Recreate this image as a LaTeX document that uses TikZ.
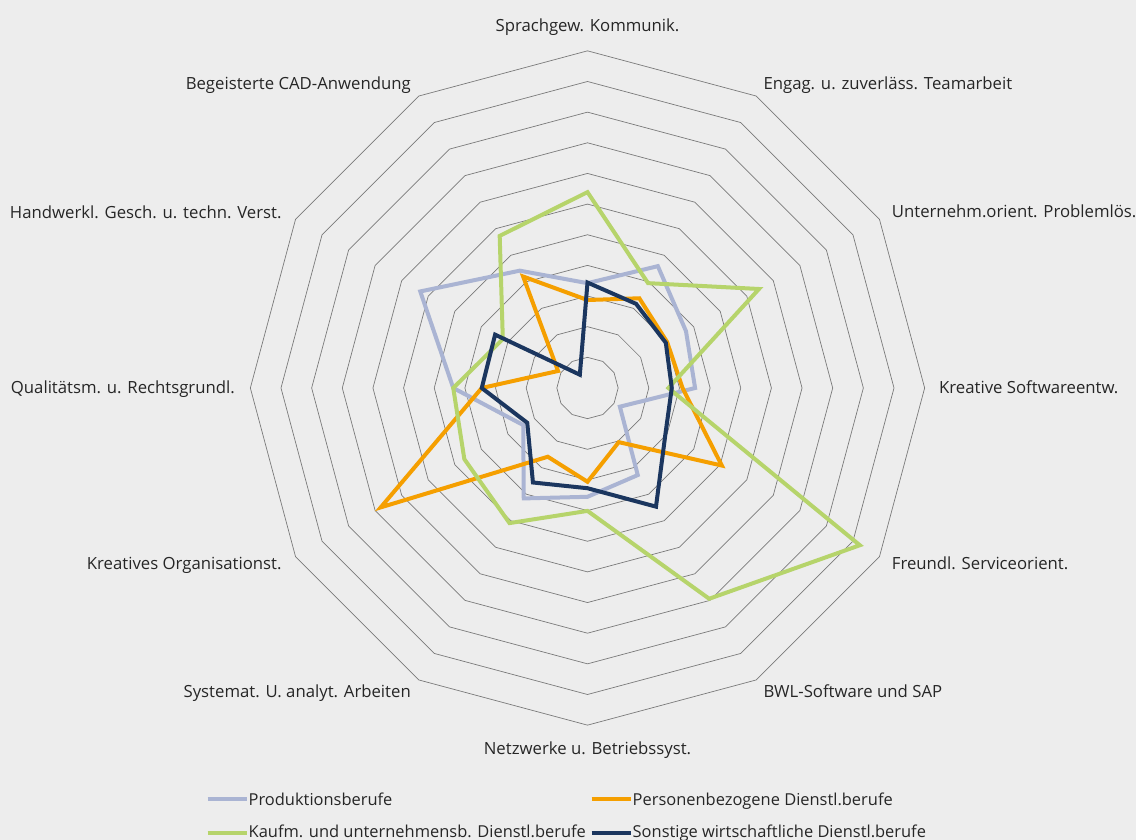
\documentclass[tikz,border=0pt]{standalone}
\usepackage{fontspec}
\setmainfont{Open Sans}
\usetikzlibrary{calc}
\definecolor{bgc}{HTML}{EDEDED}
\definecolor{gridc}{HTML}{7A7A7A}
\definecolor{prodc}{HTML}{AAB4D3}
\definecolor{persc}{HTML}{F59F00}
\definecolor{kaufc}{HTML}{B6D46B}
\definecolor{sonstc}{HTML}{1B365F}
\definecolor{txtc}{HTML}{262626}
\begin{document}
\begin{tikzpicture}[x=1bp,y=1bp,
  lab/.style={font=\fontsize{16.8}{20}\selectfont, text=txtc, inner sep=0pt},
  leg/.style={font=\fontsize{16.5}{20}\selectfont, text=txtc, inner sep=0pt, anchor=base west},
  ring/.style={draw=gridc, line width=0.7bp},
  series/.style={line width=4bp, line join=miter},
  legline/.style={line width=4bp}]
\fill[bgc] (0,0) rectangle (1136,840);
\useasboundingbox (0,0) rectangle (1136,840);
% grid rings
\begin{scope}[shift={(587.5,452)}, x=30.65bp, y=30.65bp]
\foreach \i in {1,...,11} {
  \draw[ring] (90:\i) -- (60:\i) -- (30:\i) -- (0:\i) -- (-30:\i) -- (-60:\i) -- (-90:\i)
    -- (-120:\i) -- (-150:\i) -- (180:\i) -- (150:\i) -- (120:\i) -- cycle;
}
% series
\draw[series, prodc] (90:3.42) -- (60:4.59) -- (30:3.71) -- (0:3.51) -- (-30:1.22) -- (-60:3.28)
  -- (-90:3.55) -- (-120:4.16) -- (-150:2.42) -- (180:4.38) -- (150:6.30) -- (120:4.42) -- cycle;
\draw[series, persc] (90:2.87) -- (60:3.38) -- (30:3.00) -- (0:3.10) -- (-30:5.06) -- (-60:2.04)
  -- (-90:3.06) -- (-120:2.59) -- (-150:7.79) -- (180:3.45) -- (150:1.11) -- (120:4.20) -- cycle;
\draw[series, kaufc] (90:6.39) -- (60:3.95) -- (30:6.46) -- (0:2.64) -- (-30:10.26) -- (-60:7.94)
  -- (-90:4.01) -- (-120:5.09) -- (-150:4.64) -- (180:4.38) -- (150:3.19) -- (120:5.73) -- cycle;
\draw[series, sonstc] (90:3.44) -- (60:3.17) -- (30:2.95) -- (0:2.75) -- (-30:2.94) -- (-60:4.47)
  -- (-90:3.27) -- (-120:3.56) -- (-150:2.27) -- (180:3.45) -- (150:3.48) -- (120:0.50) -- cycle;
\end{scope}
% axis labels
\node[lab, anchor=base] (l0) at (587.5,808.3) {Sprachgew. Kommunik.};
\node[lab, anchor=base west] (l1) at (763.3,750) {Engag. u. zuverläss. Teamarbeit};
\node[lab, anchor=base west] (l2) at (891.7,622.3) {Unternehm.orient. Problemlös.};
\node[lab, anchor=base west] (l3) at (939,446.7) {Kreative Softwareentw.};
\node[lab, anchor=base west] (l4) at (891.7,270.7) {Freundl. Serviceorient.};
\node[lab, anchor=base west] (l5) at (763.3,142.3) {BWL-Software und SAP};
\node[lab, anchor=base] (l6) at (587.5,85) {Netzwerke u. Betriebssyst.};
\node[lab, anchor=base east] (l7) at (411,142.3) {Systemat. U. analyt. Arbeiten};
\node[lab, anchor=base east] (l8) at (281.7,270.7) {Kreatives Organisationst.};
\node[lab, anchor=base east] (l9) at (235,446) {Qualitätsm. u. Rechtsgrundl.};
\node[lab, anchor=base east] (l10) at (281.7,621.7) {Handwerkl. Gesch. u. techn. Verst.};
\node[lab, anchor=base east] (l11) at (411,750) {Begeisterte CAD-Anwendung};
% legend
\coordinate (pa) at (207.7,40.5); \coordinate (pb) at (246.7,40.5);
\coordinate (ga) at (207.7,6.7); \coordinate (gb) at (246.7,6.7);
\coordinate (oa) at (591.7,40.5); \coordinate (ob) at (630.7,40.5);
\coordinate (na) at (591.7,6.7); \coordinate (nb) at (630.7,6.7);
\draw[legline, prodc] (pa) -- (pb);
\draw[legline, kaufc] (ga) -- (gb);
\draw[legline, persc] (oa) -- (ob);
\draw[legline, sonstc] (na) -- (nb);
\node[leg] (t1) at (248.5,34.3) {Produktionsberufe};
\node[leg] (t2) at (248.5,2.3) {Kaufm. und unternehmensb. Dienstl.berufe};
\node[leg] (t3) at (632.5,34.3) {Personenbezogene Dienstl.berufe};
\node[leg] (t4) at (632.5,2.3) {Sonstige wirtschaftliche Dienstl.berufe};
\end{tikzpicture}
\end{document}
